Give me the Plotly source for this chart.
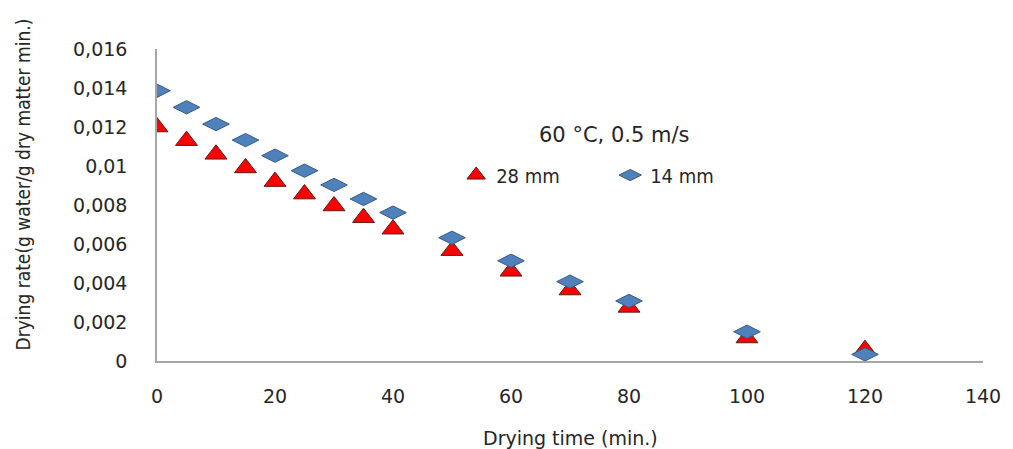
import plotly.graph_objects as go

# Data
time_28 = [0, 5, 10, 15, 20, 25, 30, 35, 40, 50, 60, 70, 80, 100, 120]
rate_28 = [0.0120, 0.0113, 0.0106, 0.0099, 0.0092, 0.00856, 0.00795, 0.00735, 0.00676,
           0.00566, 0.0046, 0.00364, 0.00275, 0.00118, 0.00058]
time_14 = [0, 5, 10, 15, 20, 25, 30, 35, 40, 50, 60, 70, 80, 100, 120]
rate_14 = [0.01386, 0.01301, 0.01215, 0.01133, 0.01053, 0.00976, 0.00903, 0.00831, 0.00761,
           0.00632, 0.00514, 0.00407, 0.00308, 0.0015, 0.00034]

x_ticks = [0, 20, 40, 60, 80, 100, 120, 140]
y_tick_vals = [0, 0.002, 0.004, 0.006, 0.008, 0.010, 0.012, 0.014, 0.016]
y_tick_text = ["0", "0,002", "0,004", "0,006", "0,008", "0,01", "0,012", "0,014", "0,016"]

series_names = ["28 mm", "14 mm"]
condition_label = "60 °C, 0.5 m/s"
x_title = "Drying time (min.)"
y_title = "Drying rate(g water/g dry matter min.)"

fig = go.Figure()
fig.add_trace(go.Scatter(
    x=time_28, y=rate_28, mode="markers", name=series_names[0],
    marker=dict(symbol="triangle-up", size=19, color="#FF0000",
                line=dict(color="#5a1a1a", width=1))))
fig.add_trace(go.Scatter(
    x=time_14, y=rate_14, mode="markers", name=series_names[1],
    marker=dict(symbol="diamond-wide", size=19, color="#4F81BD",
                line=dict(color="#3b5a80", width=1))))

tick_font = dict(family="DejaVu Sans", size=19, color="#262626")
axis_color = "#A6A6A6"
narrow = "Liberation Sans Narrow, Arial Narrow, DejaVu Sans Condensed, Arial"

fig.update_layout(
    width=1005, height=441,
    margin=dict(l=149, r=25, t=41, b=88),
    paper_bgcolor="white", plot_bgcolor="white",
    showlegend=True,
    legend=dict(orientation="h", x=0.3622, y=0.596, xanchor="left", yanchor="middle",
                font=dict(family=narrow, size=20, color="#262626"),
                bgcolor="rgba(0,0,0,0)", entrywidth=109, entrywidthmode="pixels",
                itemclick=False),
    xaxis=dict(range=[0, 140], tickvals=x_ticks, showgrid=False, zeroline=False,
               showline=True, linecolor=axis_color, linewidth=1.5, ticks="",
               tickfont=tick_font, ticklabelstandoff=17),
    yaxis=dict(range=[0, 0.016], tickvals=y_tick_vals, ticktext=y_tick_text,
               showgrid=False, zeroline=False, showline=True, linecolor=axis_color,
               linewidth=1.5, ticks="", tickfont=tick_font, ticklabelstandoff=24),
    annotations=[
        dict(text=condition_label, x=0.5535, y=0.724, xref="paper", yref="paper",
             showarrow=False, xanchor="center", yanchor="middle",
             font=dict(family="DejaVu Sans", size=21, color="#262626")),
        dict(text=y_title, x=-0.1625, y=0.565, xref="paper", yref="paper",
             showarrow=False, textangle=-90, xanchor="center", yanchor="middle",
             font=dict(family=narrow, size=19, color="#262626")),
        dict(text=x_title, x=0.5006, y=-0.2468, xref="paper", yref="paper",
             showarrow=False, xanchor="center", yanchor="middle",
             font=dict(family="DejaVu Sans", size=19, color="#262626")),
    ],
)

fig.write_html("out.html")
